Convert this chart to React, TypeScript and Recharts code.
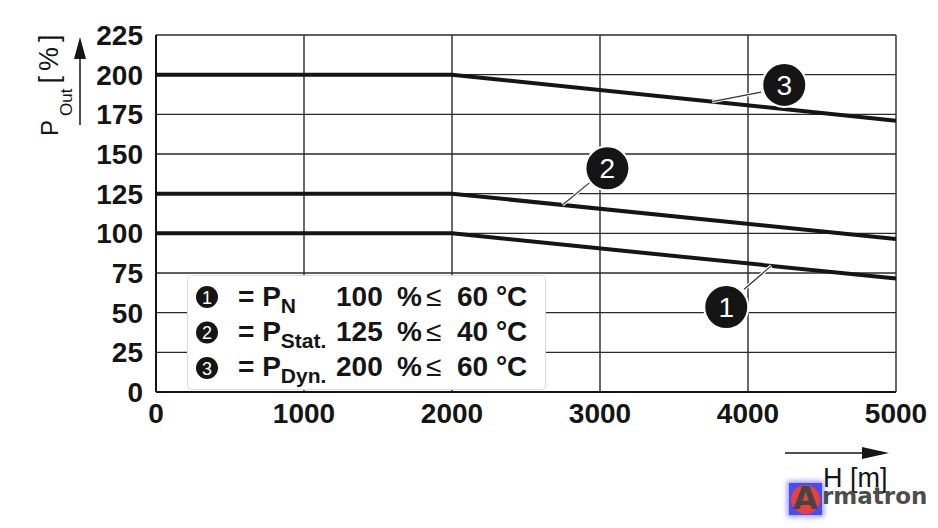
import React from 'react';
import {
  LineChart,
  Line,
  XAxis,
  YAxis,
  CartesianGrid,
  ReferenceDot,
  ReferenceLine,
  Legend,
  Label,
} from 'recharts';

// ---------- data ----------
const altitudes = [0, 2000, 5000];
const pN = [100, 100, 71.5];
const pStat = [125, 125, 96.5];
const pDyn = [200, 200, 171];

const xTicks = [0, 1000, 2000, 3000, 4000, 5000];
const yTicks = [0, 25, 50, 75, 100, 125, 150, 175, 200, 225];

const legendIds = ['1', '2', '3'];
const legendSubs = ['N', 'Stat.', 'Dyn.'];
const legendValues = ['100', '125', '200'];
const legendTemps = ['60 °C', '40 °C', '60 °C'];

// callout annotations in data space: circle centre and leader line (from point on curve to circle)
const calloutIds = ['3', '2', '1'];
const calloutCircle = [
  { x: 4245, y: 193.5 },
  { x: 3050, y: 141 },
  { x: 3853, y: 53.5 },
];
const calloutLeader = [
  [{ x: 3758, y: 183 }, { x: 4089, y: 189 }],
  [{ x: 2746, y: 117.9 }, { x: 2928, y: 131.8 }],
  [{ x: 4157, y: 79.5 }, { x: 3974, y: 64.8 }],
];

const data = altitudes.map((h, i) => ({ h, p1: pN[i], p2: pStat[i], p3: pDyn[i] }));

const FONT = "'Liberation Sans', Arial, Helvetica, sans-serif";
const INK = '#151515';

const YLabelContent = () => (
  <g>
    <text transform="translate(58,136) rotate(-90)" fontFamily={FONT} fill={INK}>
      <tspan fontSize={24}>P</tspan>
      <tspan fontSize={17} dx={4} dy={14}>Out</tspan>
      <tspan fontSize={27} dx={5} dy={-14} letterSpacing={5}>[%]</tspan>
    </text>
    <line x1={80} y1={125} x2={80} y2={56} stroke={INK} strokeWidth={1.5} />
    <polygon points="80,37 74,59 86,59" fill={INK} />
  </g>
);

const XLabelContent = () => (
  <g>
    <line x1={785} y1={453} x2={866} y2={453} stroke={INK} strokeWidth={1.5} />
    <polygon points="889,453 862,447 862,459" fill={INK} />
    <text x={823} y={487} fontFamily={FONT} fontSize={27} fill={INK}>
      H [m]
    </text>
  </g>
);

const LegendContent = () => (
  <svg width={360} height={116} style={{ display: 'block' }}>
    <rect x={0.5} y={0.5} width={358} height={114} rx={4} fill="#fff" stroke="#dcdcdc" />
    {legendIds.map((id, i) => {
      const base = 31 + i * 35;
      const cy = 22 + i * 35.5;
      return (
        <g key={id}>
          <circle cx={20} cy={cy} r={11} fill={INK} />
          <text x={20} y={cy + 6.5} textAnchor="middle" fontFamily={FONT} fontSize={18} fill="#fff">
            {id}
          </text>
          <text x={51} y={base} fontFamily={FONT} fontSize={28} fontWeight="bold" fill={INK}>
            <tspan>= P</tspan>
            <tspan fontSize={21} dy={7}>{legendSubs[i]}</tspan>
            <tspan x={149} dy={-7}>{legendValues[i]}</tspan>
            <tspan x={210}>%</tspan>
            <tspan x={239} fontWeight="normal">≤</tspan>
            <tspan x={270}>{legendTemps[i]}</tspan>
          </text>
        </g>
      );
    })}
  </svg>
);

const makeCallout = (id: string) => (props: any) => {
  const { cx, cy } = props;
  return (
    <g>
      <circle cx={cx} cy={cy} r={22} fill={INK} stroke="#fff" strokeWidth={2} />
      <text x={cx} y={cy + 10} textAnchor="middle" fontFamily={FONT} fontSize={28} fill="#fff">
        {id}
      </text>
    </g>
  );
};

const Logo = () => (
  <div style={{ position: 'absolute', left: 789, top: 483, width: 145, height: 34 }}>
    <div
      style={{
        position: 'absolute',
        left: 0,
        top: 0,
        width: 33,
        height: 32,
        background: '#4b4bf2',
        boxShadow: '0 0 5px 2px rgba(70,70,255,0.55)',
      }}
    />
    <div
      style={{
        position: 'absolute',
        left: 2,
        top: 1.5,
        width: 29,
        height: 29,
        borderRadius: '50%',
        background: '#e9403f',
      }}
    />
    <div
      style={{
        position: 'absolute',
        left: 4,
        top: -2,
        fontFamily: "'DejaVu Sans', sans-serif",
        fontWeight: 'bold',
        fontSize: 32,
        color: '#454545',
        lineHeight: '34px',
      }}
    >
      A
    </div>
    <div
      style={{
        position: 'absolute',
        left: 33,
        top: -2,
        fontFamily: "'DejaVu Sans', sans-serif",
        fontWeight: 'bold',
        fontSize: 23,
        color: '#4d4d4d',
        lineHeight: '30px',
      }}
    >
      rmatron
    </div>
  </div>
);

export default function App() {
  return (
    <div style={{ position: 'absolute', left: 0, top: 0, width: 938, height: 528, background: '#fff' }}>
      <LineChart
        width={938}
        height={528}
        data={data}
        margin={{ top: 35, right: 42, bottom: 96, left: 0 }}
      >
        <CartesianGrid stroke="#2a2a2a" strokeWidth={1.4} />
        <XAxis
          dataKey="h"
          type="number"
          domain={[0, 5000]}
          ticks={xTicks}
          interval={0}
          height={40}
          tickLine={false}
          tickSize={0}
          tickMargin={11}
          axisLine={{ stroke: INK, strokeWidth: 2 }}
          tick={{ fontFamily: FONT, fontSize: 28, fontWeight: 'bold', fill: INK }}
        >
          <Label content={XLabelContent} />
        </XAxis>
        <YAxis
          type="number"
          domain={[0, 225]}
          ticks={yTicks}
          interval={0}
          width={156}
          tickLine={false}
          tickSize={0}
          tickMargin={13}
          axisLine={{ stroke: INK, strokeWidth: 2 }}
          tick={{ fontFamily: FONT, fontSize: 28, fontWeight: 'bold', fill: INK }}
        >
          <Label content={YLabelContent} />
        </YAxis>
        <Line dataKey="p1" type="linear" stroke={INK} strokeWidth={4} dot={false} isAnimationActive={false} />
        <Line dataKey="p2" type="linear" stroke={INK} strokeWidth={4} dot={false} isAnimationActive={false} />
        <Line dataKey="p3" type="linear" stroke={INK} strokeWidth={4} dot={false} isAnimationActive={false} />
        {calloutLeader.map((seg, i) => (
          <ReferenceLine key={'lw' + i} segment={seg} stroke="#fff" strokeWidth={3.5} />
        ))}
        {calloutLeader.map((seg, i) => (
          <ReferenceLine key={'lk' + i} segment={seg} stroke="#333" strokeWidth={1.2} />
        ))}
        {calloutCircle.map((c, i) => (
          <ReferenceDot key={'c' + i} x={c.x} y={c.y} r={22} shape={makeCallout(calloutIds[i])} />
        ))}
        <Legend
          layout="horizontal"
          verticalAlign="middle"
          align="center"
          content={LegendContent}
          wrapperStyle={{ position: 'absolute', left: 187, top: 275, width: 360, height: 116 }}
        />
      </LineChart>
      <Logo />
    </div>
  );
}
